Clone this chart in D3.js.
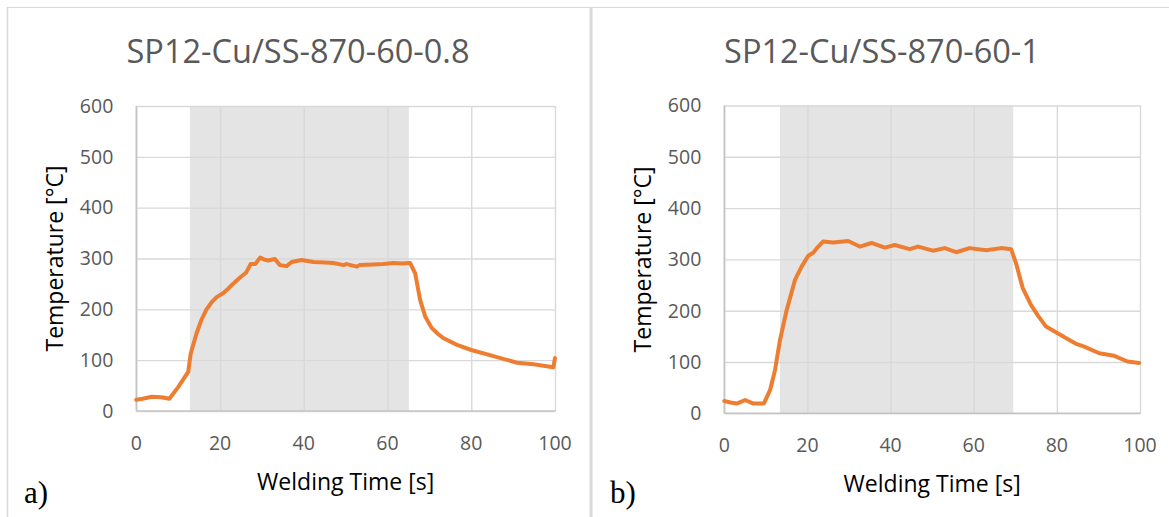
<!DOCTYPE html>
<html>
<head>
<meta charset="utf-8">
<script src="https://cdn.jsdelivr.net/npm/d3@7"></script>
<style>
  body { margin: 0; background: #fff; }
  svg { display: block; }
</style>
</head>
<body>
<script>
//Width and height
var w = 1169;
var h = 517;

//Data
var titles = ["SP12-Cu/SS-870-60-0.8", "SP12-Cu/SS-870-60-1"];
var panelLabels = ["a)", "b)"];
var xTicks = [0, 20, 40, 60, 80, 100];
var yTicks = [0, 100, 200, 300, 400, 500, 600];

var timeA = [0, 1.5, 3.7, 6, 7.9, 10, 12.4, 13, 14.4, 15.5, 16.7, 18, 19.2, 20.8, 22, 23.2, 24.7, 26.2, 26.8, 27.3, 28.4, 29.6, 30.5, 31.5, 33.1, 34.3, 35.9, 37.1, 39.5, 42.3, 45, 47.1, 49.5, 50.2, 52.7, 53.3, 56.6, 59, 61.4, 63.5, 65.4, 66.6, 67.8, 69, 70.6, 72, 73.4, 76.6, 80, 85.3, 90.9, 94.9, 99.6, 100];
var tempA = [22, 24, 28, 27, 24, 47, 77, 113, 153, 178, 199, 214, 224, 232, 241, 251, 262, 272, 281, 289, 289, 302, 298, 296, 299, 287, 285, 293, 297, 293, 292, 291, 287, 289, 284, 287, 288, 289, 291, 290, 291, 271, 218, 186, 163, 152, 143, 130, 120, 108, 95, 92, 86, 104];

var timeB = [0, 1.5, 3, 5, 7, 9.5, 11, 12.2, 13.4, 15, 17, 18.6, 20.2, 21.4, 22.5, 23.8, 26.2, 29.8, 32.6, 35.4, 38.6, 41, 44.6, 46.6, 50.2, 53, 55.8, 59, 63, 66.6, 69, 70.2, 71.8, 73.8, 75.5, 77.4, 80.2, 83, 84.5, 86.6, 90.2, 93.8, 97, 99.8];
var tempB = [24, 21, 19, 26, 19, 19, 45, 84, 143, 201, 260, 286, 307, 313, 324, 335, 333, 336, 325, 332, 323, 328, 320, 325, 317, 322, 314, 322, 318, 322, 320, 292, 244, 211, 190, 169, 156, 143, 136, 130, 117, 112, 101, 98];

//Shaded welding window [start, end] in seconds
var shadeA = [12.8, 65.1];
var shadeB = [13.4, 69.5];

//Create SVG element
var svg = d3.select("body")
            .append("svg")
            .attr("width", w)
            .attr("height", h);

//Panel frames
svg.append("line")
   .attr("x1", 8).attr("x2", w).attr("y1", 7.5).attr("y2", 7.5)
   .attr("stroke", "#d9d9d9").attr("stroke-width", 1.2);
svg.append("line")
   .attr("x1", 7.5).attr("x2", 7.5).attr("y1", 7).attr("y2", h)
   .attr("stroke", "#d9d9d9").attr("stroke-width", 1.5);
svg.append("line")
   .attr("x1", 591).attr("x2", 591).attr("y1", 7).attr("y2", h)
   .attr("stroke", "#d9d9d9").attr("stroke-width", 3);

var panels = [
    {title: titles[0], label: panelLabels[0], time: timeA, temp: tempA, shade: shadeA,
     left: 136.3, right: 555, top: 106, bottom: 411, cx: 298, labelX: 24},
    {title: titles[1], label: panelLabels[1], time: timeB, temp: tempB, shade: shadeB,
     left: 724.3, right: 1140, top: 105.5, bottom: 413.3, cx: 882, labelX: 610}
];

panels.forEach(drawPanel);

function drawPanel(p) {
    var xScale = d3.scaleLinear()
                   .domain([0, 100])
                   .range([p.left, p.right]);

    var yScale = d3.scaleLinear()
                   .domain([0, 600])
                   .range([p.bottom, p.top]);

    var g = svg.append("g");

    //Shaded band
    g.append("rect")
     .attr("x", xScale(p.shade[0]))
     .attr("y", yScale(600))
     .attr("width", xScale(p.shade[1]) - xScale(p.shade[0]))
     .attr("height", yScale(0) - yScale(600))
     .attr("fill", "#e4e4e4");

    //Gridlines
    g.append("g")
     .attr("transform", "translate(0," + p.bottom + ")")
     .call(d3.axisBottom(xScale).tickValues(xTicks).tickSize(-(p.bottom - p.top)).tickFormat(""))
     .call(function(s) { s.select(".domain").remove(); })
     .selectAll("line")
     .attr("stroke", "#d9d9d9")
     .attr("stroke-width", 1.4);

    g.append("g")
     .attr("transform", "translate(" + p.left + ",0)")
     .call(d3.axisLeft(yScale).tickValues(yTicks).tickSize(-(p.right - p.left)).tickFormat(""))
     .call(function(s) { s.select(".domain").remove(); })
     .selectAll("line")
     .attr("stroke", "#d9d9d9")
     .attr("stroke-width", 1.4);

    //Axis lines
    g.append("line")
     .attr("x1", p.left).attr("x2", p.right + 0.7)
     .attr("y1", p.bottom).attr("y2", p.bottom)
     .attr("stroke", "#c4c4c4").attr("stroke-width", 1.6);
    g.append("line")
     .attr("x1", p.left).attr("x2", p.left)
     .attr("y1", p.top).attr("y2", p.bottom)
     .attr("stroke", "#c4c4c4").attr("stroke-width", 1.6);

    //Tick labels
    g.selectAll("text.xtick")
     .data(xTicks)
     .enter()
     .append("text")
     .attr("class", "xtick")
     .attr("x", function(d) { return xScale(d); })
     .attr("y", p.bottom + 39)
     .attr("text-anchor", "middle")
     .attr("font-family", "'Open Sans', sans-serif")
     .attr("font-size", "19.5px")
     .attr("fill", "#595959")
     .text(function(d) { return d; });

    g.selectAll("text.ytick")
     .data(yTicks)
     .enter()
     .append("text")
     .attr("class", "ytick")
     .attr("x", p.left - 23)
     .attr("y", function(d) { return yScale(d) + 6.8; })
     .attr("text-anchor", "end")
     .attr("font-family", "'Open Sans', sans-serif")
     .attr("font-size", "19.5px")
     .attr("fill", "#595959")
     .text(function(d) { return d; });

    //Curve
    var pts = p.time.map(function(t, i) { return [t, p.temp[i]]; });
    var line = d3.line()
                 .x(function(d) { return xScale(d[0]); })
                 .y(function(d) { return yScale(d[1]); });

    g.append("path")
     .datum(pts)
     .attr("d", line)
     .attr("fill", "none")
     .attr("stroke", "#ed7d31")
     .attr("stroke-width", 4)
     .attr("stroke-linejoin", "round")
     .attr("stroke-linecap", "round");

    //Titles
    g.append("text")
     .attr("x", p.cx)
     .attr("y", 63)
     .attr("text-anchor", "middle")
     .attr("font-family", "'Open Sans', sans-serif")
     .attr("font-size", "32.5px")
     .attr("fill", "#595959")
     .text(p.title);

    g.append("text")
     .attr("x", (p.left + p.right) / 2)
     .attr("y", p.bottom + 79)
     .attr("text-anchor", "middle")
     .attr("font-family", "'Open Sans', sans-serif")
     .attr("font-size", "23px")
     .attr("fill", "#000")
     .text("Welding Time [s]");

    g.append("text")
     .attr("transform", "translate(" + (p.left - 73) + "," + ((p.top + p.bottom) / 2) + ") rotate(-90)")
     .attr("text-anchor", "middle")
     .attr("font-family", "'Open Sans', sans-serif")
     .attr("font-size", "23px")
     .attr("fill", "#000")
     .text("Temperature [°C]");

    //Panel label
    g.append("text")
     .attr("x", p.labelX)
     .attr("y", 503)
     .attr("font-family", "'Liberation Serif', 'Times New Roman', serif")
     .attr("font-size", "31px")
     .attr("fill", "#000")
     .text(p.label);
}
</script>
</body>
</html>
